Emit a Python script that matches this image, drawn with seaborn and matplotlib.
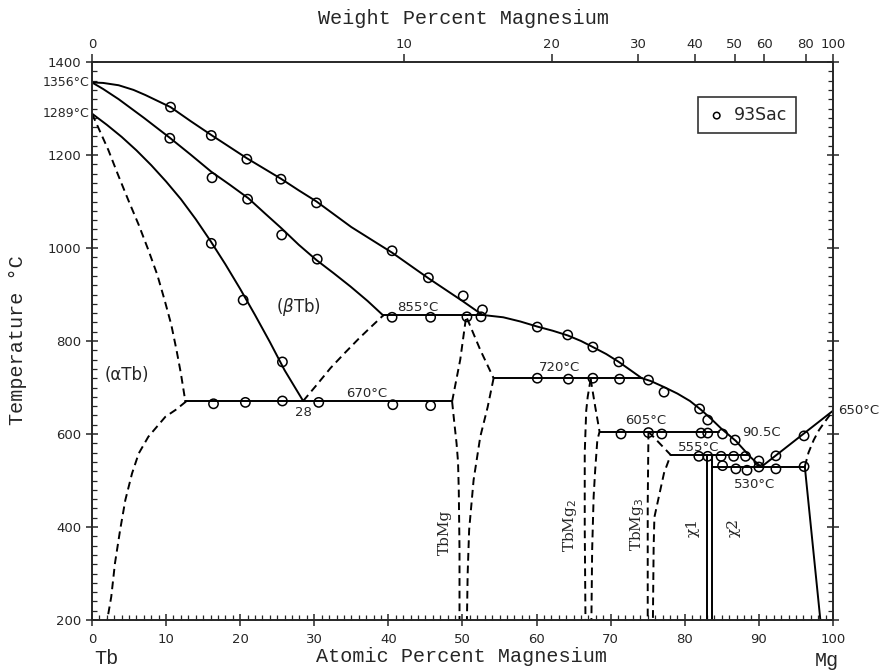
import numpy as np
import pandas as pd
import matplotlib
matplotlib.use("Agg")
import matplotlib.pyplot as plt
import seaborn as sns

# Tb-Mg phase diagram, points read as (at.% Mg, temperature in degC)
liquidus_tb = [(0, 1356), (1.5, 1355), (3.6, 1350), (5.6, 1340), (7.2, 1329), (10.6, 1303),
               (13.3, 1273), (16.1, 1243), (18.5, 1218), (20.9, 1193), (23.2, 1171), (25.5, 1149),
               (27.9, 1124), (30.3, 1100), (35, 1045), (40.5, 990), (45.4, 935), (50, 886),
               (52.7, 856)]
liquidus_mid = [(52.7, 856), (55.5, 851), (57.8, 842), (60.1, 831), (62.2, 822), (64.2, 812),
                (66, 800), (67.6, 787), (69.4, 772), (71.1, 755), (72.7, 737), (74.2, 720),
                (75.4, 714), (77.2, 701), (79, 687), (80.7, 671), (82.2, 652), (83.6, 632),
                (84.9, 612), (86.9, 585), (88.9, 550), (90.3, 529)]
liquidus_mg = [(90.3, 529), (100, 650)]
solidus_btb = [(0, 1356), (1.5, 1342), (3.6, 1320), (7, 1280), (10.5, 1237), (13.3, 1201),
               (16.1, 1164), (18.6, 1136), (21.1, 1107), (23.3, 1075), (25.6, 1042), (27.9, 1007),
               (30.3, 974), (32.6, 946), (34.9, 917), (37.2, 886), (39.3, 855)]
btb_boundary = [(0, 1289), (2, 1265), (4, 1239), (6, 1210), (8, 1178), (10, 1143), (12, 1105),
                (14, 1062), (16, 1015), (18, 965), (20, 912), (22, 856), (24, 798), (26, 737),
                (28.5, 671)]
invariants = {
    "670": [(12.6, 670), (48.6, 670)],
    "855": [(39.3, 855), (52.7, 855)],
    "720": [(54.2, 720), (74.2, 720)],
    "605": [(68.5, 605), (84.6, 605)],
    "555": [(78.1, 555), (88.6, 555)],
    "530": [(83.7, 530), (96.2, 530)],
}
chi_lines = [[(83.05, 555), (83.05, 200)], [(83.7, 555), (83.7, 200)]]
mg_solvus_low = [(96.2, 530), (98.3, 200)]

# dashed (estimated) boundaries
atb_upper = [(0, 1289), (1.1, 1250), (2.2, 1211), (3.5, 1158), (4.9, 1103), (6.3, 1050),
             (7.6, 996), (8.8, 943), (9.8, 888), (10.7, 835), (11.4, 781), (12.0, 730),
             (12.5, 680), (12.7, 670)]
atb_lower = [(12.7, 670), (11.3, 652), (9.9, 637), (7.6, 594), (6.3, 558), (5.4, 515),
             (4.5, 458), (3.8, 394), (3.1, 322), (2.6, 250), (2.1, 204), (2.05, 200)]
btb_solvus = [(28.5, 671), (30.4, 707), (32.2, 742), (34.1, 774), (36, 805), (37.7, 831), (39.3, 855)]
tbmg_top = [(48.6, 670), (49.7, 760), (50.5, 853), (52.4, 781), (54.2, 720)]
tbmg_left = [(48.6, 670), (48.9, 624), (49.2, 580), (49.4, 540), (49.5, 480), (49.6, 350), (49.6, 200)]
tbmg_right = [(54.2, 720), (53.4, 658), (52.4, 594), (51.5, 501), (50.9, 394), (50.7, 300), (50.6, 200)]
tbmg2_left = [(67.3, 718), (66.9, 680), (66.7, 650), (66.5, 560), (66.5, 400), (66.6, 200)]
tbmg2_right = [(67.3, 718), (67.9, 660), (68.5, 605), (68.2, 587), (67.9, 520), (67.7, 465),
               (67.5, 350), (67.4, 200)]
tbmg3_left = [(75.1, 605), (75.0, 450), (75.0, 200)]
tbmg3_right = [(75.1, 605), (78.1, 555), (77.2, 516), (76.5, 465), (75.9, 421), (75.8, 357), (75.7, 200)]
mg_solvus_high = [(96.2, 530), (96.7, 560), (97.4, 587), (98.1, 608), (98.8, 624), (100, 650)]

# experimental points, 93Sac
sac_x = [10.6, 16.1, 20.9, 25.5, 30.3, 40.5, 45.4, 50.1, 52.7,
         10.5, 16.2, 21.0, 25.6, 30.4,
         16.1, 20.4, 25.7,
         16.4, 20.7, 25.7, 30.6, 40.6, 45.7,
         40.5, 45.7, 50.6, 52.5,
         60.1, 64.2, 67.6, 71.1, 77.2, 82.0, 83.1, 86.8, 90.0, 92.3, 96.1,
         60.1, 64.3, 67.6, 71.2, 75.1,
         71.4, 75.1, 76.9, 82.2, 83.1, 85.1,
         81.9, 83.1, 84.9, 86.6, 88.2,
         85.1, 86.9, 88.4, 90.0, 92.3, 96.1]
sac_t = [1303, 1242, 1191, 1148, 1097, 994, 936, 897, 867,
         1236, 1151, 1105, 1028, 976,
         1010, 888, 755,
         665, 668, 671, 668, 663, 661,
         851, 851, 852, 852,
         830, 813, 787, 755, 690, 654, 630, 587, 542, 553, 596,
         720, 718, 720, 718, 716,
         600, 603, 600, 602, 602, 600,
         552, 552, 552, 552, 552,
         532, 525, 522, 529, 525, 530]

wt_ticks = [0, 10, 20, 30, 40, 50, 60, 80, 100]

M_TB, M_MG = 158.925, 24.305


def wt_to_at(w):
    w = np.asarray(w, dtype=float)
    nmg = w / M_MG
    return 100 * nmg / (nmg + (100 - w) / M_TB)


sns.set_style("ticks")
plt.rcParams["font.family"] = ["DejaVu Sans"]
plt.rcParams["axes.linewidth"] = 1.2

fig = plt.figure(figsize=(8.82, 6.71), dpi=100)
ax = fig.add_axes([0.1043, 0.076, 0.8401, 0.8316])


def draw(pts, dashed=False):
    df = pd.DataFrame(pts, columns=["x", "T"])
    sns.lineplot(data=df, x="x", y="T", sort=False, estimator=None, color="black",
                 lw=1.4, ax=ax)
    line = ax.lines[-1]
    line.set_solid_joinstyle("round")
    if dashed:
        line.set_dashes((4, 2.5))


for curve in [liquidus_tb, liquidus_mid, liquidus_mg, solidus_btb, btb_boundary, mg_solvus_low]:
    draw(curve)
for seg in invariants.values():
    draw(seg)
for seg in chi_lines:
    draw(seg)
for curve in [atb_upper, atb_lower, btb_solvus, tbmg_top, tbmg_left, tbmg_right,
              tbmg2_left, tbmg2_right, tbmg3_left, tbmg3_right, mg_solvus_high]:
    draw(curve, dashed=True)

pts = pd.DataFrame({"x": sac_x, "T": sac_t})
sns.scatterplot(data=pts, x="x", y="T", marker="o", s=45, facecolors="none",
                edgecolor="black", linewidth=1.1, label="93Sac", ax=ax, zorder=3)

ax.set_xlim(0, 100)
ax.set_ylim(200, 1400)
ax.set_xlabel("")
ax.set_ylabel("")
ax.set_xticks(np.arange(0, 101, 10))
ax.set_xticks(np.arange(0, 101, 1), minor=True)
ax.set_yticks(np.arange(200, 1401, 200))
ax.set_yticks(np.arange(200, 1401, 20), minor=True)
ax.xaxis.set_ticks_position("both")
ax.yaxis.set_ticks_position("both")
ax.tick_params(which="major", direction="inout", length=8, width=1.1, labelsize=9.5)
ax.tick_params(which="minor", direction="in", length=3.5, width=0.9)
ax.tick_params(axis="x", which="major", pad=5)

# weight percent scale on top
ax2 = ax.twiny()
ax2.set_xlim(0, 100)
ax2.set_xticks(wt_to_at(wt_ticks))
ax2.set_xticklabels([str(w) for w in wt_ticks])
ax2.tick_params(direction="out", length=6, width=1.1, labelsize=9.5, pad=2)
ax2.xaxis.set_minor_locator(plt.NullLocator())

leg = ax.legend(loc="upper right", bbox_to_anchor=(0.962, 0.952), frameon=True,
                fancybox=False, edgecolor="black", fontsize=12.5, handletextpad=0.4,
                handlelength=1.2, borderpad=0.5, markerscale=0.7)
leg.get_frame().set_linewidth(1.2)

mono = "Liberation Mono"
fig.text(0.526, 0.972, "Weight Percent Magnesium", ha="center", va="center",
         family=mono, fontsize=14.5)
fig.text(0.523, 0.021, "Atomic Percent Magnesium", ha="center", va="center",
         family=mono, fontsize=14.5)
fig.text(0.020, 0.493, "Temperature °C", ha="center", va="center", rotation=90,
         family=mono, fontsize=14.5)
fig.text(0.121, 0.019, "Tb", ha="center", va="center", family=mono, fontsize=14.5)
fig.text(0.937, 0.016, "Mg", ha="center", va="center", family=mono, fontsize=14.5)

notes = [("855°C", 43.9, 873), ("720°C", 63.1, 744), ("670°C", 37.1, 688),
         ("605°C", 74.7, 628), ("90.5C", 90.3, 604), ("555°C", 81.9, 570),
         ("530°C", 89.4, 492), ("28", 28.5, 647)]
for txt, x, t in notes:
    ax.text(x, t, txt, ha="center", va="center", fontsize=9.5)
ax.text(4.7, 727, "(αTb)", ha="center", va="center", fontsize=12)
ax.text(27.9, 873, r"($\beta$Tb)", ha="center", va="center", fontsize=12)
ax.text(100.7, 650, "650°C", ha="left", va="center", fontsize=9.5, clip_on=False)
ax.text(-0.4, 1356, "1356°C", ha="right", va="center", fontsize=9, clip_on=False)
ax.text(-0.4, 1289, "1289°C", ha="right", va="center", fontsize=9, clip_on=False)

serif = "DejaVu Serif"
for txt, x, t in [("TbMg", 47.6, 389), ("TbMg$_2$", 64.5, 404), ("TbMg$_3$", 73.5, 406),
                  ("χ1", 81.1, 398), ("χ2", 86.6, 400)]:
    ax.text(x, t, txt, rotation=90, ha="center", va="center", family=serif, fontsize=11)

fig.savefig("out.png", dpi=100)
